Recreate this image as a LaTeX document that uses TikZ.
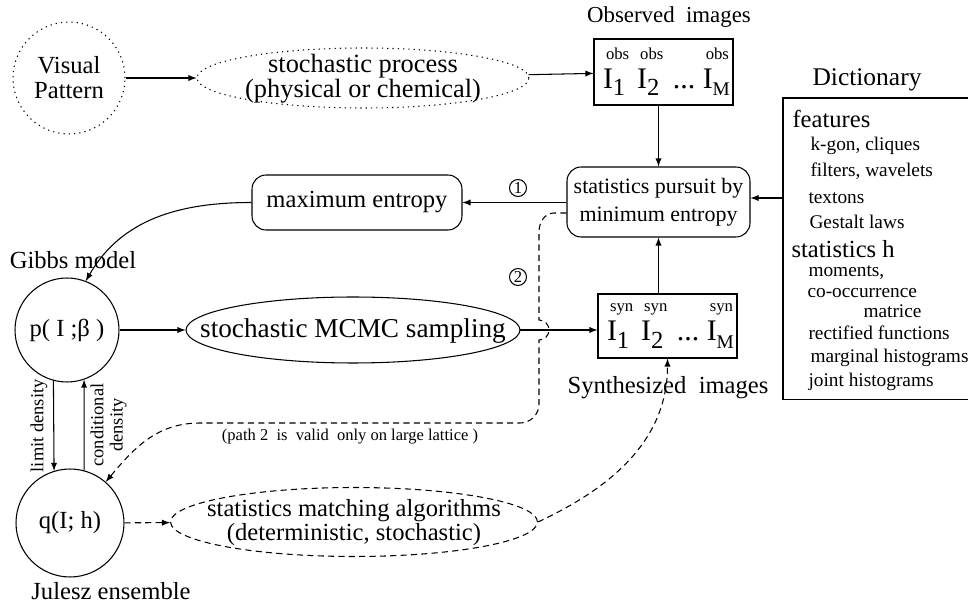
\documentclass[tikz,border=0pt]{standalone}
\usepackage{fontspec}
\setmainfont{Liberation Serif}
\usetikzlibrary{shapes,arrows,positioning,calc,arrows.meta}

% image symbol with a small tag above and an index below
\newcommand{\imgI}[2]{\makebox[0pt][l]{\raisebox{2.1ex}{\hspace{0.1em}\fontsize{9.5}{10}\selectfont #1}}I\raisebox{-0.55ex}{\fontsize{14}{14}\selectfont #2}}
\newcommand{\imgrow}[1]{\fontsize{17}{18}\selectfont\hspace{0.2em}\imgI{#1}{1}\hspace{0.4em}\imgI{#1}{2}\hspace{0.45em}...\hspace{0.25em}\imgI{#1}{\fontsize{11}{12}\selectfont M}\hspace{0.1em}}
% text that does not widen the shape around it
\newcommand{\squeeze}[1]{\makebox[0pt]{\raisebox{-0.3em}[0pt][0pt]{\begin{tabular}{@{}c@{}}#1\end{tabular}}}}

\tikzset{
  txt/.style={font=\fontsize{14}{15.5}\selectfont, align=center},
  small/.style={font=\fontsize{11}{12}\selectfont, anchor=west, inner sep=0pt},
  head/.style={font=\fontsize{14}{15}\selectfont, anchor=west, inner sep=0pt},
  dots/.style={dash pattern=on 0.7pt off 2.3pt},
  dashes/.style={dash pattern=on 3.5pt off 2.4pt},
  rnd/.style={circle, draw, inner sep=0pt, txt},
  ell/.style={ellipse, draw, inner sep=0pt, txt},
  imgbox/.style={rectangle, draw, inner sep=0pt, minimum width=2.78cm, minimum height=1.32cm},
  rbox/.style={rectangle, rounded corners=8pt, draw, inner sep=0pt, txt},
  num/.style={circle, draw, inner sep=0pt, minimum size=0.34cm, font=\fontsize{9.5}{10}\selectfont}
}

\begin{document}
\begin{tikzpicture}[x=0.02cm, y=0.02cm, >=latex, line width=0.6pt]
\useasboundingbox (0,0) rectangle (968,-604);
\clip (0,0) rectangle (968,-604);

% top row
\node[rnd, dots, font=\fontsize{14}{14.2}\selectfont, minimum size=2.24cm] (vp) at (69,-78) {Visual\\Pattern};
\node[ell, dots, font=\fontsize{15}{14.2}\selectfont, minimum width=6.64cm, minimum height=1.2cm] (proc) at (363,-78) {\squeeze{stochastic process\\(physical or chemical)}};
\node[imgbox] (obs) at (663.5,-72) {\imgrow{obs}};
\node[txt, font=\fontsize{13}{14}\selectfont] (obslab) at (669,-17) {Observed\ \ images};
\draw[->] (vp) -- (proc);
\draw[->] (proc) -- (obs);

% dictionary
\node[txt, font=\fontsize{14.5}{15}\selectfont] (dictlab) at (867,-80) {Dictionary};
\node[draw, rectangle, inner sep=0pt, minimum width=4.14cm, minimum height=6.04cm] (dict) at (886.5,-249) {};
\node[head] (feat) at (792,-119) {features};
\node[small] (d1) at (810,-146) {k-gon, cliques};
\node[small] (d2) at (810,-171) {filters, wavelets};
\node[small] (d3) at (808,-198) {textons};
\node[small] (d4) at (809,-222) {Gestalt laws};
\node[head] (stat) at (791,-249) {statistics h};
\node[small] (d5) at (808,-273) {moments,};
\node[small] (d6) at (807,-293) {co-occurrence};
\node[small] (d7) at (863,-311) {matrice};
\node[small] (d8) at (808,-333) {rectified functions};
\node[small] (d9) at (810,-358) {marginal histograms};
\node[small] (d10) at (808,-382) {joint histograms};

% pursuit and learning
\node[rbox, font=\fontsize{12.5}{16}\selectfont, minimum width=3.66cm, minimum height=1.4cm] (pursuit) at (658.5,-202) {statistics pursuit by\\minimum entropy};
\node[rbox, minimum width=4.2cm, minimum height=1.1cm] (maxent) at (357,-202.5) {maximum entropy};
\node[num] (one) at (518,-188) {1};
\node[num] (two) at (518,-277) {2};
\draw[->] (obs.south -| pursuit.north) -- (pursuit.north);
\draw[->] (dict.west |- d3) -- (pursuit.east |- d3);
\draw[->] (pursuit.west |- maxent) -- (maxent);

% Gibbs model and Julesz ensemble
\node[txt] (gibbslab) at (73,-260) {Gibbs model};
\node[rnd, minimum size=2.08cm] (p) at (67,-330) {p( I ;β )};
\node[rnd, minimum size=2.16cm] (q) at (70,-523) {q(I; h)};
\node[txt] (juleszlab) at (111,-591) {Julesz ensemble};
\draw[->] (maxent.west) to[out=180, in=60] (p.69);
\draw[->] (p.255) -- (q.107) node[midway, rotate=90, anchor=south, font=\fontsize{10.5}{11}\selectfont] (ld) {limit density};
\draw[->] (q.75) -- (p.289) node[midway, rotate=90, anchor=north, align=center, font=\fontsize{10.5}{11}\selectfont] (cd) {conditional\\density};

% sampling
\node[ell, font=\fontsize{15.5}{16}\selectfont, minimum width=6.68cm, minimum height=1.32cm] (mcmc) at (353,-330) {\squeeze{stochastic MCMC sampling}};
\node[imgbox, minimum height=1.28cm] (syn) at (667.5,-326) {\imgrow{syn}};
\node[txt] (synlab) at (668,-388) {Synthesized\ \ images};
\draw[->] (p) -- (mcmc);
\draw[->] (mcmc.east) -- (syn.west |- mcmc.east);
\draw[->] (syn.north -| pursuit.south) -- (pursuit.south);

% matching
\node[ell, dashes, font=\fontsize{14}{13}\selectfont, minimum width=7.34cm, minimum height=1.38cm] (match) at (354,-522) {\squeeze{statistics matching algorithms\\(deterministic, stochastic)}};
\draw[->, dashes] (q) -- (match);
\draw[->, dashes] (match.east) to[out=25, in=-90] (syn.south);

% path 2
\draw[->, dashes] (pursuit.west |- 0,-213) -- (554,-213) to[out=180, in=90] (539,-232) -- (539,-320)
  arc[start angle=90, end angle=-90, radius=10] -- (539,-404) to[out=-90, in=0] (520,-423) -- (200,-423)
  to[out=180, in=50] (q.49);
\node[font=\fontsize{9.4}{10}\selectfont] (note) at (350,-437) {(path 2\ \ is\ \ valid\ \ only on large lattice )};
\end{tikzpicture}
\end{document}
